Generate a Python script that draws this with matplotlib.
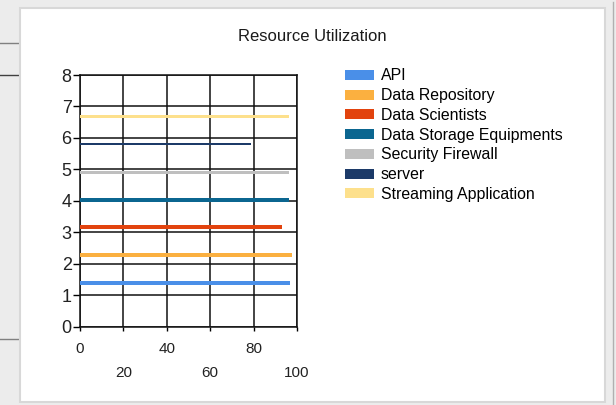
import matplotlib
matplotlib.use("Agg")
import matplotlib.pyplot as plt
from matplotlib.patches import Rectangle, Patch
from matplotlib.lines import Line2D

plt.rcParams['font.family'] = ['Liberation Sans', 'DejaVu Sans']

# data
series = ["API", "Data Repository", "Data Scientists", "Data Storage Equipments",
          "Security Firewall", "server", "Streaming Application"]
positions = [1.40, 2.28, 3.16, 4.03, 4.90, 5.81, 6.69]
values = [96.8, 97.5, 93.2, 96.3, 96.3, 78.6, 96.3]
colors = ["#4a8fe8", "#fbb040", "#e2430e", "#0b6690",
          "#bfbfbf", "#1c3a68", "#fde08c"]
thickness = [0.13, 0.12, 0.12, 0.12, 0.12, 0.075, 0.10]

W, H = 616, 405
fig = plt.figure(figsize=(W / 100, H / 100), dpi=100)
fig.patch.set_facecolor("#ececec")

# white panel behind the chart (form window look)
fig.patches.append(Rectangle((20 / W, 1 - 402 / H), 585 / W, 394 / H,
                             transform=fig.transFigure, facecolor="white",
                             edgecolor="#d8d8d8", lw=1.5, zorder=-5))
fig.lines.append(Line2D([613 / W, 613 / W], [0, 1 - 2 / H], transform=fig.transFigure,
                        color="#b0b0b0", lw=1, zorder=-5))
for yy, c in [(43, "#808080"), (75, "#404040"), (339, "#808080")]:
    fig.lines.append(Line2D([0, 19 / W], [1 - yy / H, 1 - yy / H],
                            transform=fig.transFigure, color=c, lw=1, zorder=-5))

ax = fig.add_axes([80 / W, 1 - 326.7 / H, 217 / W, 251.7 / H])
ax.set_zorder(2)
ax.patch.set_alpha(0)

for p, v, c, t in zip(positions, values, colors, thickness):
    ax.barh(p, v, height=t, color=c, zorder=3)

ax.set_xlim(0, 100)
ax.set_ylim(0, 8)
ax.set_xticks(range(0, 101, 20))
ax.set_yticks(range(0, 9))
ax.set_xticklabels([str(x) for x in range(0, 101, 20)], fontsize=11, color="#222222")
ax.set_yticklabels([str(y) for y in range(0, 9)], fontsize=13, color="#222222")
ax.grid(True, color="#111111", lw=1.1, zorder=1)
ax.set_axisbelow(True)
for s in ax.spines.values():
    s.set_color("#111111")
    s.set_linewidth(1.1)
ax.tick_params(axis="y", length=5, width=1, pad=1)
ax.tick_params(axis="x", length=3, width=1, pad=8)
# staggered x labels
for i, tk in enumerate(ax.xaxis.get_major_ticks()):
    if i % 2 == 1:
        tk.set_pad(25)

fig.text(312 / W, 1 - 36.5 / H, "Resource Utilization", ha="center", va="center",
         fontsize=12, color="#1a1a1a")

handles = [Patch(facecolor=c, edgecolor="none") for c in colors]
fig.legend(handles, series, loc="upper left", bbox_to_anchor=(345 / W, 1 - 68.5 / H),
           frameon=False, fontsize=11.4, handlelength=1.85, handleheight=0.6,
           handletextpad=0.4, labelspacing=0.3, borderpad=0, borderaxespad=0)

plt.savefig("out.png", dpi=100, facecolor=fig.get_facecolor())
